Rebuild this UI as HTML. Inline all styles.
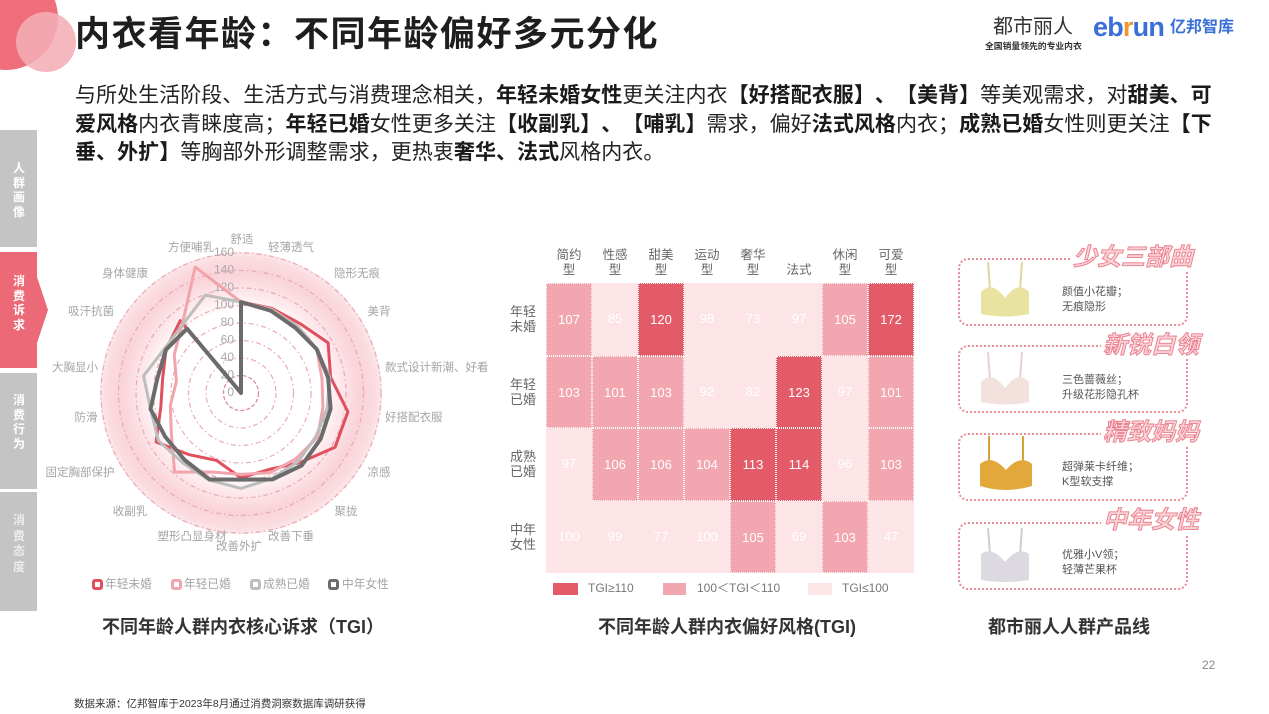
<!DOCTYPE html>
<html><head><meta charset="utf-8">
<style>
*{margin:0;padding:0;box-sizing:border-box}
html,body{width:1269px;height:714px;background:#fff;overflow:hidden}
body{font-family:"Liberation Sans","Noto Sans CJK SC",sans-serif;color:#222;position:relative;text-spacing-trim:space-all}
.a{position:absolute;white-space:nowrap}
.tab{position:absolute;left:0;width:37px;background:#c4c4c4}
.tch{position:absolute;left:0;width:38px;text-align:center;color:#fff;font-weight:bold;font-size:12px;line-height:14.5px;white-space:normal}
.title{left:75px;top:15px;font-size:35px;font-weight:bold;letter-spacing:1.5px;line-height:40px;color:#1e1e1e}
.para{left:75px;top:82px;font-size:21px;line-height:28.5px;letter-spacing:0.05px;color:#222;text-spacing-trim:space-all}
.para b{font-weight:bold;color:#1a1a1a}
.hm{position:absolute;left:546px;top:283px;width:368px;height:290px;background:#fce4e7}
.cell{position:absolute;width:46px;height:72.5px;color:#fff;font-size:13px;text-align:center;line-height:72.5px}
.d{background:#e35b68;border:1.5px dotted rgba(255,255,255,.95)}
.m{background:#f2a6af;border:1.5px dotted rgba(255,255,255,.95)}
.l{color:#fff}
.ch{position:absolute;width:46px;text-align:center;font-size:12.5px;line-height:15px;color:#666;white-space:normal}
.rl{position:absolute;left:507px;width:32px;text-align:center;font-size:13px;line-height:15px;color:#666;white-space:normal}
.cap{font-size:18px;font-weight:bold;color:#333;line-height:22px}
.box{position:absolute;left:958px;width:230px;height:68px;border:2px dotted #e98d9a;border-radius:10px}
.ptitle{position:absolute;font-size:24px;font-style:italic;font-weight:bold;color:#fad3d7;-webkit-text-stroke:0.9px #ea7c8b;background:#fff;padding:0 2px;line-height:26px;white-space:nowrap}
.ptxt{position:absolute;left:1062px;font-size:11px;line-height:15px;color:#555;white-space:nowrap}
</style></head><body>

<!-- top-left circles -->
<svg class="a" style="left:0;top:0" width="100" height="100">
<circle cx="6" cy="18" r="52" fill="#ee6e7b"/>
<circle cx="46" cy="42" r="30" fill="#f5aeb6" opacity="0.88"/>
</svg>

<div class="a title">内衣看年龄：不同年龄偏好多元分化</div>

<div class="a para">与所处生活阶段、生活方式与消费理念相关，<b>年轻未婚女性</b>更关注内衣<b>【好搭配衣服】、【美背】</b>等美观需求，对<b>甜美、可</b><br><b>爱风格</b>内衣青睐度高；<b>年轻已婚</b>女性更多关注<b>【收副乳】、【哺乳】</b>需求，偏好<b>法式风格</b>内衣；<b>成熟已婚</b>女性则更关注<b>【下</b><br><b>垂、外扩】</b>等胸部外形调整需求，更热衷<b>奢华、法式</b>风格内衣。</div>

<!-- logos -->
<div class="a" style="left:993px;top:15px;font-size:20px;line-height:24px;color:#333">都市丽人</div>
<div class="a" style="left:985px;top:41px;font-size:8.8px;line-height:10px;color:#333;font-weight:bold">全国销量领先的专业内衣</div>
<div class="a" style="left:1093px;top:11px;font-size:27px;line-height:32px;font-weight:bold;letter-spacing:-0.8px;color:#3a6fd8">eb<span style="color:#f0962e">r</span>un</div>
<div class="a" style="left:1170px;top:18px;font-size:16px;line-height:20px;font-weight:bold;color:#3a6fd8">亿邦智库</div>

<!-- sidebar -->
<div class="tab" style="top:130px;height:117px"></div>
<div class="tch" style="top:161px">人<br>群<br>画<br>像</div>
<svg class="a" style="left:0;top:252px" width="50" height="117"><polygon points="0,0 37,0 37,25 48,58 37,91 37,116 0,116" fill="#ec6a77"/></svg>
<div class="tch" style="top:274px">消<br>费<br>诉<br>求</div>
<div class="tab" style="top:373px;height:116px"></div>
<div class="tch" style="top:393px">消<br>费<br>行<br>为</div>
<div class="tab" style="top:492px;height:119px"></div>
<div class="tch" style="top:513px;color:#ececec;line-height:15.5px">消<br>费<br>态<br>度</div>

<!-- radar -->
<svg class="a" style="left:0;top:0" width="520" height="620" font-family="Liberation Sans, Noto Sans CJK SC, sans-serif">
<defs>
<radialGradient id="rg" cx="241" cy="393" r="141" gradientUnits="userSpaceOnUse">
<stop offset="0" stop-color="#ffffff"/>
<stop offset="0.58" stop-color="#ffffff"/>
<stop offset="0.7" stop-color="#fde9ec"/>
<stop offset="0.85" stop-color="#f9d3d9"/>
<stop offset="0.95" stop-color="#fadce0"/>
<stop offset="1" stop-color="#fce8eb"/>
</radialGradient>
</defs>
<circle cx="241" cy="393" r="141" fill="url(#rg)"/>
<g fill="none" stroke="#e9a9b2" stroke-width="1.2" stroke-dasharray="5 3 1.5 3">
<circle cx="241" cy="393" r="35"/>
<circle cx="241" cy="393" r="52.5"/>
<circle cx="241" cy="393" r="70"/>
<circle cx="241" cy="393" r="87.5"/>
<circle cx="241" cy="393" r="105"/>
<circle cx="241" cy="393" r="122.5"/>
<circle cx="241" cy="393" r="140"/>
</g>
<circle cx="241" cy="393" r="17.5" fill="none" stroke="#d98791" stroke-width="1.2" stroke-dasharray="4 2"/>
<g font-size="12" fill="#aaa" text-anchor="end" dominant-baseline="middle">
<text x="234" y="253">160</text><text x="234" y="270.5">140</text><text x="234" y="288">120</text><text x="234" y="305.5">100</text>
<text x="234" y="323">80</text><text x="234" y="340.5">60</text><text x="234" y="358">40</text><text x="234" y="375.5">20</text><text x="234" y="393">0</text>
</g>
<g fill="none" stroke-linejoin="round">
<polygon stroke="#e0505f" stroke-width="3" points="241,302 271.8,308.3 299.5,323.3 328.1,342.7 330.6,377.2 347.9,411.9 335,447.3 299.5,462.7 268.8,469.5 241,477.9 216.5,460.4 189.2,454.7 156.1,442 160.8,407.2 162.6,379.1 166,349.7 180.2,320.6 241,393"/>
<polygon stroke="#f2a4ac" stroke-width="3" points="241,302 271.5,309.1 297.3,326 316.8,349.25 322,378.7 322.9,407.5 317.6,437.2 296.1,458.7 270,472.8 241,474.4 212.3,472 174.6,472.1 171.3,433.25 170.3,405.5 176.4,381.6 174.3,354.5 182.5,323.3 195.2,267.1"/>
<polygon stroke="#bdbdbd" stroke-width="3" points="241,302 271.2,309.9 297.3,326 316.8,349.25 329.7,377.3 327.2,408.2 316,436.3 298.4,461.4 272.1,478.5 241,488.4 209.3,480.2 182.5,462.7 158.4,440.7 150.5,409 143.6,375.8 164.4,348.8 183.1,324 205.4,295.1"/>
<polygon stroke="#6b6b6b" stroke-width="4" points="241,302 270.9,310.75 295.6,328 316.8,349.25 328.1,377.6 330.6,408.8 320.6,439 301.8,465.4 272.4,479.4 241,479.6 209.6,479.4 184.7,460 165.2,436.75 150.5,409 157.4,378.2 166,349.7 187,328.7 241,393"/>
</g>
<g font-size="11.5" fill="#a5a5a5" dominant-baseline="middle">
<text x="242" y="240" text-anchor="middle">舒适</text>
<text x="291" y="248" text-anchor="middle">轻薄透气</text>
<text x="357" y="274" text-anchor="middle">隐形无痕</text>
<text x="379" y="312" text-anchor="middle">美背</text>
<text x="385" y="368">款式设计新潮、好看</text>
<text x="385" y="418">好搭配衣服</text>
<text x="379" y="473" text-anchor="middle">凉感</text>
<text x="346" y="512" text-anchor="middle">聚拢</text>
<text x="291" y="537" text-anchor="middle">改善下垂</text>
<text x="239" y="547" text-anchor="middle">改善外扩</text>
<text x="192" y="537" text-anchor="middle">塑形凸显身材</text>
<text x="130" y="512" text-anchor="middle">收副乳</text>
<text x="80" y="473" text-anchor="middle">固定胸部保护</text>
<text x="86" y="418" text-anchor="middle">防滑</text>
<text x="75" y="368" text-anchor="middle">大胸显小</text>
<text x="91" y="312" text-anchor="middle">吸汗抗菌</text>
<text x="125" y="274" text-anchor="middle">身体健康</text>
<text x="191" y="248" text-anchor="middle">方便哺乳</text>
</g>
<g stroke-width="3" fill="#fff">
<rect x="93.5" y="580.5" width="8" height="8" rx="1.5" stroke="#e0505f"/>
<rect x="172.5" y="580.5" width="8" height="8" rx="1.5" stroke="#f2a4ac"/>
<rect x="251.5" y="580.5" width="8" height="8" rx="1.5" stroke="#bdbdbd"/>
<rect x="329.5" y="580.5" width="8" height="8" rx="1.5" stroke="#6b6b6b"/>
</g>
<g font-size="11.7" fill="#a5a5a5" dominant-baseline="middle">
<text x="105" y="585">年轻未婚</text><text x="184" y="585">年轻已婚</text><text x="263" y="585">成熟已婚</text><text x="342" y="585">中年女性</text>
</g>
</svg>

<div class="a cap" style="left:102px;top:616px">不同年龄人群内衣核心诉求（TGI）</div>

<!-- heatmap -->
<div class="ch" style="left:546px;top:247.5px">简约<br>型</div>
<div class="ch" style="left:592px;top:247.5px">性感<br>型</div>
<div class="ch" style="left:638px;top:247.5px">甜美<br>型</div>
<div class="ch" style="left:684px;top:247.5px">运动<br>型</div>
<div class="ch" style="left:730px;top:247.5px">奢华<br>型</div>
<div class="ch" style="left:776px;top:262.5px">法式</div>
<div class="ch" style="left:822px;top:247.5px">休闲<br>型</div>
<div class="ch" style="left:868px;top:247.5px">可爱<br>型</div>

<div class="rl" style="top:304px">年轻<br>未婚</div>
<div class="rl" style="top:376.5px">年轻<br>已婚</div>
<div class="rl" style="top:449px">成熟<br>已婚</div>
<div class="rl" style="top:521.5px">中年<br>女性</div>

<div class="hm">
<div class="cell m" style="left:0;top:0">107</div>
<div class="cell l" style="left:46px;top:0">85</div>
<div class="cell d" style="left:92px;top:0">120</div>
<div class="cell l" style="left:138px;top:0">98</div>
<div class="cell l" style="left:184px;top:0">73</div>
<div class="cell l" style="left:230px;top:0">97</div>
<div class="cell m" style="left:276px;top:0">105</div>
<div class="cell d" style="left:322px;top:0">172</div>

<div class="cell m" style="left:0;top:72.5px">103</div>
<div class="cell m" style="left:46px;top:72.5px">101</div>
<div class="cell m" style="left:92px;top:72.5px">103</div>
<div class="cell l" style="left:138px;top:72.5px">92</div>
<div class="cell l" style="left:184px;top:72.5px">82</div>
<div class="cell d" style="left:230px;top:72.5px">123</div>
<div class="cell l" style="left:276px;top:72.5px">97</div>
<div class="cell m" style="left:322px;top:72.5px">101</div>

<div class="cell l" style="left:0;top:145px">97</div>
<div class="cell m" style="left:46px;top:145px">106</div>
<div class="cell m" style="left:92px;top:145px">106</div>
<div class="cell m" style="left:138px;top:145px">104</div>
<div class="cell d" style="left:184px;top:145px">113</div>
<div class="cell d" style="left:230px;top:145px">114</div>
<div class="cell l" style="left:276px;top:145px">96</div>
<div class="cell m" style="left:322px;top:145px">103</div>

<div class="cell l" style="left:0;top:217.5px">100</div>
<div class="cell l" style="left:46px;top:217.5px">99</div>
<div class="cell l" style="left:92px;top:217.5px">77</div>
<div class="cell l" style="left:138px;top:217.5px">100</div>
<div class="cell m" style="left:184px;top:217.5px">105</div>
<div class="cell l" style="left:230px;top:217.5px">69</div>
<div class="cell m" style="left:276px;top:217.5px">103</div>
<div class="cell l" style="left:322px;top:217.5px">47</div>
</div>

<div class="a" style="left:553px;top:583px;width:25px;height:12px;background:#e35b68"></div>
<div class="a" style="left:588px;top:581px;font-size:12px;line-height:15px;color:#777">TGI≥110</div>
<div class="a" style="left:663px;top:583px;width:23px;height:12px;background:#f2a6af"></div>
<div class="a" style="left:697px;top:581px;font-size:12px;line-height:15px;color:#777">100＜TGI＜110</div>
<div class="a" style="left:808px;top:583px;width:24px;height:12px;background:#fce4e7"></div>
<div class="a" style="left:842px;top:581px;font-size:12px;line-height:15px;color:#777">TGI≤100</div>

<div class="a cap" style="left:598px;top:616px">不同年龄人群内衣偏好风格(TGI)</div>

<!-- product line -->
<div class="box" style="top:258px"></div>
<div class="box" style="top:345px"></div>
<div class="box" style="top:433px"></div>
<div class="box" style="top:522px"></div>
<div class="ptitle" style="left:1071px;top:245px">少女三部曲</div>
<div class="ptitle" style="left:1101px;top:333px">新锐白领</div>
<div class="ptitle" style="left:1101px;top:420px">精致妈妈</div>
<div class="ptitle" style="left:1101px;top:508px">中年女性</div>

<svg class="a" style="left:978px;top:262px" width="56" height="58">
<line x1="10" y1="0" x2="12" y2="28" stroke="#dcd79a" stroke-width="2"/><line x1="44" y1="0" x2="42" y2="28" stroke="#dcd79a" stroke-width="2"/>
<path d="M3,30 Q14,18 27,36 Q40,18 51,30 L51,52 Q27,57 3,52 Z" fill="#e8e3a0"/>
</svg>
<svg class="a" style="left:978px;top:352px" width="56" height="58">
<line x1="10" y1="0" x2="12" y2="28" stroke="#e6d2cf" stroke-width="2"/><line x1="44" y1="0" x2="42" y2="28" stroke="#e6d2cf" stroke-width="2"/>
<path d="M3,30 Q14,18 27,36 Q40,18 51,30 L51,50 Q27,55 3,50 Z" fill="#f2e1dd"/>
</svg>
<svg class="a" style="left:977px;top:436px" width="58" height="60">
<line x1="12" y1="0" x2="12" y2="26" stroke="#d9a03a" stroke-width="2"/><line x1="46" y1="0" x2="46" y2="26" stroke="#d9a03a" stroke-width="2"/>
<path d="M3,28 Q15,18 29,34 Q43,18 55,28 L55,50 Q29,58 3,50 Z" fill="#e3a83c"/>
</svg>
<svg class="a" style="left:978px;top:528px" width="56" height="58">
<line x1="10" y1="0" x2="12" y2="26" stroke="#cfcbd4" stroke-width="2"/><line x1="44" y1="0" x2="42" y2="26" stroke="#cfcbd4" stroke-width="2"/>
<path d="M3,26 Q14,18 27,34 Q40,18 51,26 L51,52 Q27,56 3,52 Z" fill="#dcd9e0"/>
</svg>

<div class="ptxt" style="top:285px">颜值小花瓣；<br>无痕隐形</div>
<div class="ptxt" style="top:373px">三色蔷薇丝；<br>升级花形隐孔杯</div>
<div class="ptxt" style="top:460px">超弹莱卡纤维；<br>K型软支撑</div>
<div class="ptxt" style="top:548px">优雅小V领；<br>轻薄芒果杯</div>

<div class="a cap" style="left:988px;top:616px">都市丽人人群产品线</div>

<div class="a" style="left:1202px;top:658px;font-size:12px;line-height:14px;color:#888">22</div>
<div class="a" style="left:74px;top:698px;font-size:10.5px;line-height:13px;color:#333">数据来源：亿邦智库于2023年8月通过消费洞察数据库调研获得</div>

</body></html>
